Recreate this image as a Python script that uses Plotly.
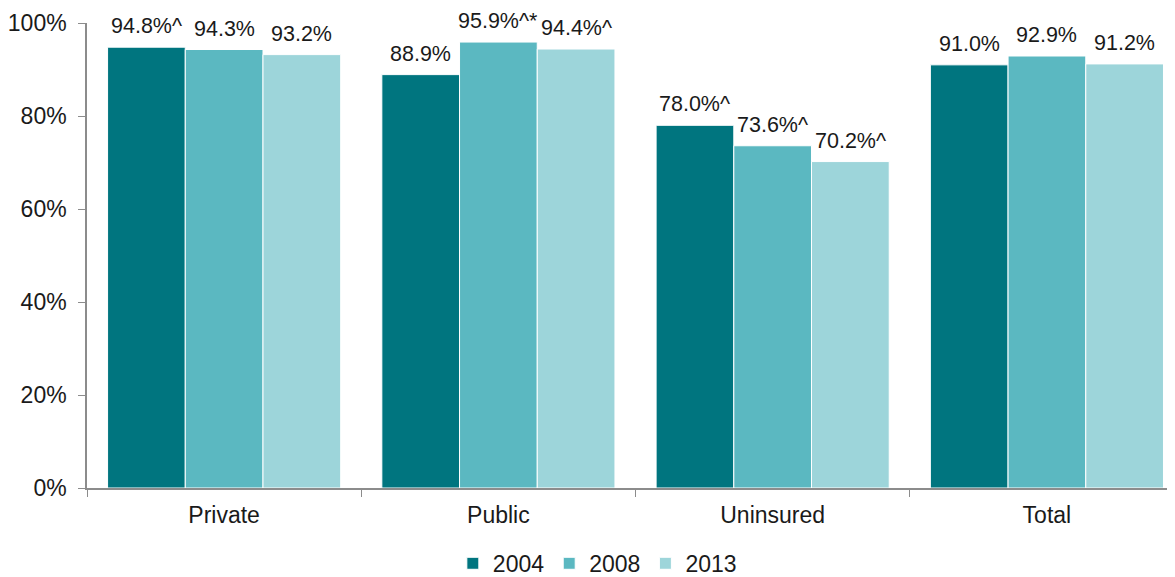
import plotly.graph_objects as go

categories = ["Private", "Public", "Uninsured", "Total"]
years = ["2004", "2008", "2013"]
values_2004 = [94.8, 88.9, 78.0, 91.0]
values_2008 = [94.3, 95.9, 73.6, 92.9]
values_2013 = [93.2, 94.4, 70.2, 91.2]
labels_2004 = ["94.8%^", "88.9%", "78.0%^", "91.0%"]
labels_2008 = ["94.3%", "95.9%^*", "73.6%^", "92.9%"]
labels_2013 = ["93.2%", "94.4%^", "70.2%^", "91.2%"]

colors = ["#00757F", "#5BB8C1", "#9DD5DA"]
series = [values_2004, values_2008, values_2013]
labels = [labels_2004, labels_2008, labels_2013]

font_family = "Liberation Sans, Arial, sans-serif"
fig = go.Figure()
for yr, vals, col in zip(years, series, colors):
    fig.add_trace(go.Bar(
        x=categories, y=vals, name=yr,
        marker=dict(color=col, line=dict(color="white", width=1)),
    ))

shifts = [-77.7, 0, 77.7]
for labs, vals, sh in zip(labels, series, shifts):
    for c, v, t in zip(categories, vals, labs):
        fig.add_annotation(x=c, y=v, text=t, showarrow=False, xshift=sh,
                           yanchor="bottom", yshift=7,
                           font=dict(size=21.5, color="#1a1a1a", family=font_family))

# the page body has an 8px default margin, so the figure is 8px smaller
fig.update_layout(
    width=1167, height=569,
    margin=dict(l=79, r=0, t=15, b=89),
    paper_bgcolor="white", plot_bgcolor="white",
    barmode="group", bargap=0.15, bargroupgap=0,
    font=dict(family=font_family, size=23, color="#1a1a1a"),
    legend=dict(orientation="h", x=0.505, xref="container", xanchor="center",
                y=0.024, yref="container", yanchor="middle",
                font=dict(size=23), itemwidth=30, traceorder="normal",
                tracegroupgap=0),
    xaxis=dict(showline=True, linecolor="#8c8c8c", linewidth=1.5,
               range=[-0.5, 3.467],
               ticks="outside", tickson="boundaries", ticklen=7, tickcolor="#8c8c8c",
               ticklabelstandoff=6,
               tickfont=dict(size=23), showgrid=False, automargin=False),
    yaxis=dict(range=[0, 100], dtick=20, ticksuffix="%", showline=True,
               linecolor="#8c8c8c", linewidth=1.5, ticks="outside", ticklen=7,
               tickcolor="#8c8c8c", showgrid=False, zeroline=False,
               ticklabelstandoff=7,
               tickfont=dict(size=23), automargin=False),
)
fig.write_html("out.html")
